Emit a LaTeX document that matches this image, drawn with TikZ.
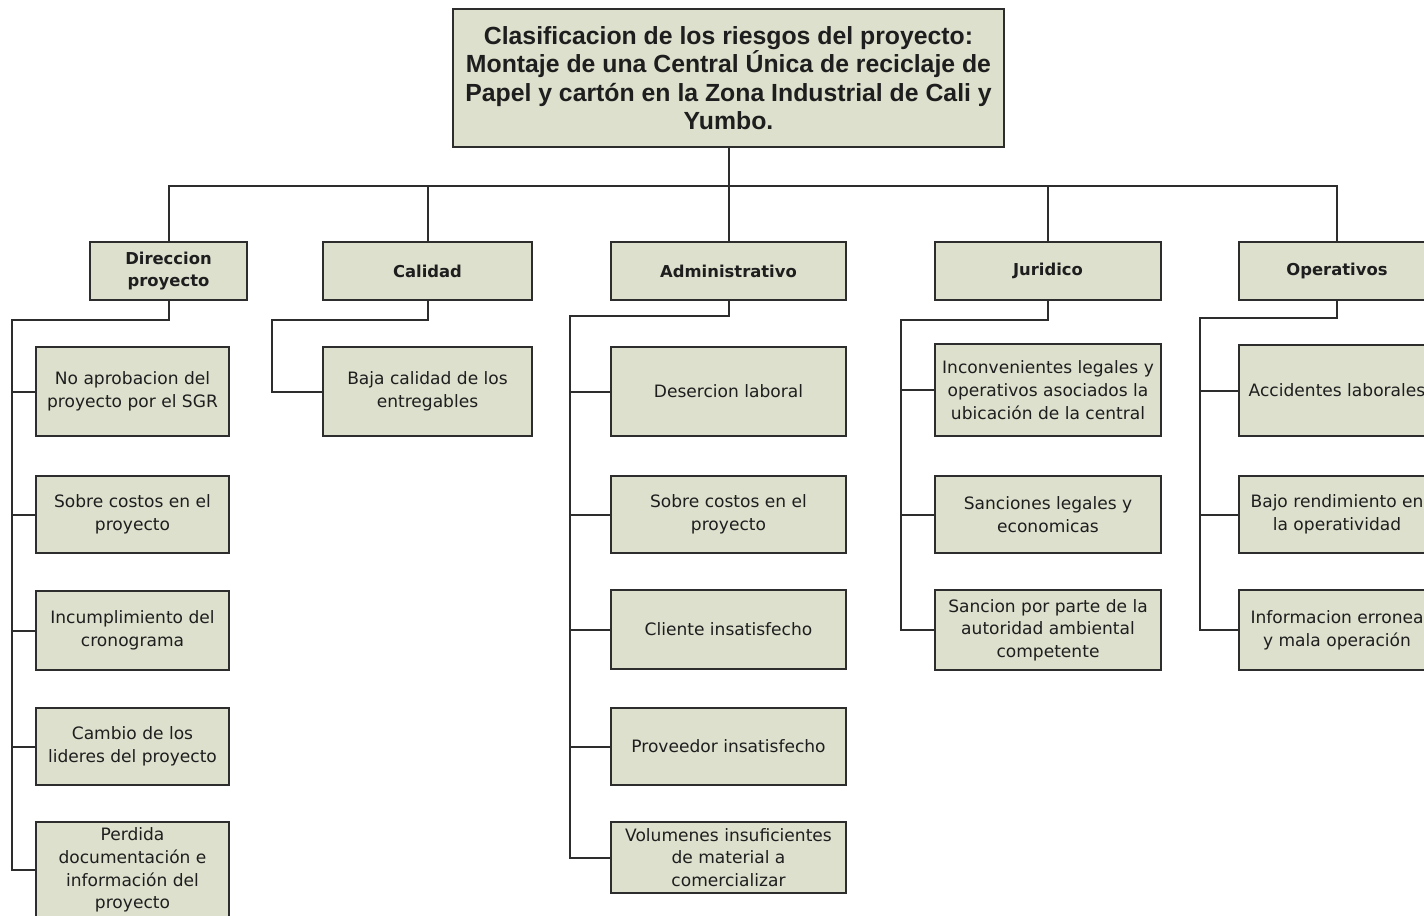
\documentclass[tikz,border=0pt]{standalone}
\usepackage{fontspec}
\setmainfont{DejaVu Sans}
\newfontfamily\titlefont{Liberation Sans}
\definecolor{boxfill}{RGB}{221,224,205}
\definecolor{boxline}{RGB}{45,45,45}
\definecolor{txt}{RGB}{30,30,30}
\begin{document}
\begin{tikzpicture}[x=0.75pt,y=-0.75pt,
  cbox/.style={draw=boxline,fill=boxfill,line width=1.5pt,rectangle,inner sep=0pt,align=center,text=txt,
    font=\fontsize{12.8}{17}\selectfont},
  hbox/.style={cbox,font=\bfseries\fontsize{12.3}{17}\selectfont},
  tbox/.style={cbox,font=\titlefont\bfseries\fontsize{18.6}{21.4}\selectfont},
  link/.style={draw=boxline,line width=1.5pt}]
\path[use as bounding box,clip] (0,0) rectangle (1424,916);

% title
\node[tbox,minimum width=413.25pt,minimum height=103.5pt] (title) at (728.5,78)
  {Clasificacion de los riesgos del proyecto:\\Montaje de una Central Única de reciclaje de\\Papel y cartón en la Zona Industrial de Cali y\\Yumbo.};

% level 1
\node[hbox,minimum width=117.75pt,minimum height=43.5pt] (dir) at (168.5,271) {Direccion\\proyecto};
\node[hbox,minimum width=156.75pt,minimum height=43.5pt] (cal) at (427.5,271) {Calidad};
\node[hbox,minimum width=176.25pt,minimum height=43.5pt] (adm) at (728.5,271) {Administrativo};
\node[hbox,minimum width=169.5pt,minimum height=43.5pt] (jur) at (1048,271) {Juridico};
\node[hbox,minimum width=147pt,minimum height=43.5pt] (ope) at (1337,271) {Operativos};

% Direccion children
\node[cbox,minimum width=144.75pt,minimum height=66.75pt] (d1) at (132.5,391.5) {No aprobacion del\\proyecto por el SGR};
\node[cbox,minimum width=144.75pt,minimum height=57.75pt] (d2) at (132.5,514.5) {Sobre costos en el\\proyecto};
\node[cbox,minimum width=144.75pt,minimum height=59.25pt] (d3) at (132.5,630.5) {Incumplimiento del\\cronograma};
\node[cbox,minimum width=144.75pt,minimum height=57.75pt] (d4) at (132.5,746.5) {Cambio de los\\lideres del proyecto};
\node[cbox,minimum width=144.75pt,minimum height=72pt] (d5) at (132.5,870) {Perdida\\documentación e\\información del\\proyecto};

% Calidad child
\node[cbox,minimum width=156.75pt,minimum height=66.75pt] (c1) at (427.5,391.5) {Baja calidad de los\\entregables};

% Administrativo children
\node[cbox,minimum width=176.25pt,minimum height=66.75pt] (a1) at (728.5,391.5) {Desercion laboral};
\node[cbox,minimum width=176.25pt,minimum height=57.75pt] (a2) at (728.5,514.5) {Sobre costos en el\\proyecto};
\node[cbox,minimum width=176.25pt,minimum height=59.25pt] (a3) at (728.5,629.5) {Cliente insatisfecho};
\node[cbox,minimum width=176.25pt,minimum height=57.75pt] (a4) at (728.5,746.5) {Proveedor insatisfecho};
\node[cbox,minimum width=176.25pt,minimum height=53.25pt] (a5) at (728.5,857.5) {Volumenes insuficientes\\de material a\\comercializar};

% Juridico children
\node[cbox,minimum width=169.5pt,minimum height=69pt] (j1) at (1048,390) {Inconvenientes legales y\\operativos asociados la\\ubicación de la central};
\node[cbox,minimum width=169.5pt,minimum height=57.75pt] (j2) at (1048,514.5) {Sanciones legales y\\economicas};
\node[cbox,minimum width=169.5pt,minimum height=60pt] (j3) at (1048,630) {Sancion por parte de la\\autoridad ambiental\\competente};

% Operativos children
\node[cbox,minimum width=147pt,minimum height=68.25pt] (o1) at (1337,390.5) {Accidentes laborales};
\node[cbox,minimum width=147pt,minimum height=57.75pt] (o2) at (1337,514.5) {Bajo rendimiento en\\la operatividad};
\node[cbox,minimum width=147pt,minimum height=60pt] (o3) at (1337,630) {Informacion erronea\\y mala operación};

% bus coordinates
\coordinate (bus) at (0,186);
\coordinate (tdir) at (12,320);
\coordinate (tcal) at (272,320);
\coordinate (tadm) at (570,316);
\coordinate (tjur) at (901,320);
\coordinate (tope) at (1200,318);

% top level connectors
\draw[link] (title.south) -- (title.south |- bus);
\draw[link] (dir.north) -- (dir.north |- bus) -- (ope.north |- bus) -- (ope.north);
\draw[link] (cal.north) -- (cal.north |- bus);
\draw[link] (adm.north) -- (adm.north |- bus);
\draw[link] (jur.north) -- (jur.north |- bus);

% Direccion
\draw[link] (dir.south) |- (tdir) -- (tdir |- d5.west) -- (d5.west);
\foreach \n in {d1,d2,d3,d4} \draw[link] (tdir |- \n.west) -- (\n.west);
% Calidad
\draw[link] (cal.south) |- (tcal) -- (tcal |- c1.west) -- (c1.west);
% Administrativo
\draw[link] (adm.south) |- (tadm) -- (tadm |- a5.west) -- (a5.west);
\foreach \n in {a1,a2,a3,a4} \draw[link] (tadm |- \n.west) -- (\n.west);
% Juridico
\draw[link] (jur.south) |- (tjur) -- (tjur |- j3.west) -- (j3.west);
\foreach \n in {j1,j2} \draw[link] (tjur |- \n.west) -- (\n.west);
% Operativos
\draw[link] (ope.south) |- (tope) -- (tope |- o3.west) -- (o3.west);
\foreach \n in {o1,o2} \draw[link] (tope |- \n.west) -- (\n.west);
\end{tikzpicture}
\end{document}
